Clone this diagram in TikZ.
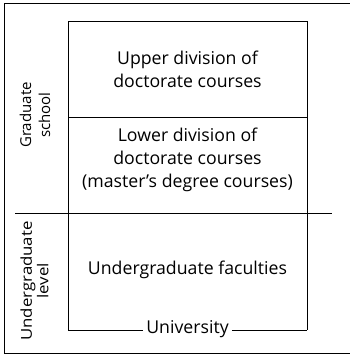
\documentclass[tikz,border=0pt]{standalone}
\usepackage{fontspec}
\setmainfont{Open Sans}
\newfontfamily\widefont[FakeStretch=1.12]{Open Sans}
\begin{document}
\begin{tikzpicture}[x=1pt,y=-1pt,
  lbl/.style={align=center,font=\fontsize{17.7}{23}\selectfont,inner sep=0pt},
  side/.style={align=center,inner sep=0pt,rotate=90},
  ln/.style={line width=1pt,black}]
\useasboundingbox (0,0) rectangle (350,359);
% outer frame
\coordinate (otr) at (350,3);
\coordinate (otl) at (4,3);
\coordinate (obl) at (4,353);
\coordinate (obr) at (350,353);
\draw[ln] (otr) -- (otl) -- (obl) -- (obr);
% inner boxes
\coordinate (itl) at (68,21);
\coordinate (itr) at (307,21);
\coordinate (iml) at (68,117);
\coordinate (imr) at (307,117);
\coordinate (ibl) at (68,330);
\coordinate (ibr) at (307,330);
\coordinate (dl) at (15,213);
\coordinate (dr) at (332,213);
\draw[ln] (itl) rectangle (imr);
\draw[ln] (iml) -- (ibl);
\draw[ln] (imr) -- (ibr);
\draw[ln] (dl) -- (dr);
% texts
\node[lbl] (upper) at (187.5,69) {Upper division of\\doctorate courses};
\node[lbl] (lower) at (187.5,160) {Lower division of\\doctorate courses\\(master's degree courses)};
\node[lbl] (ugf) at (187.5,270) {Undergraduate faculties};
\node[lbl,inner xsep=3pt,fill=white] (univ) at (187.5,329) {University};
\draw[ln] (ibl) -- (univ.west |- ibl);
\draw[ln] (univ.east |- ibr) -- (ibr);
\node[side,font=\fontsize{15}{19}\selectfont] (grad) at (35,115) {Graduate\\school};
\node[side,font=\widefont\fontsize{15}{16.5}\selectfont] (ugl) at (34.5,281) {Undergraduate\\level};
\end{tikzpicture}
\end{document}
